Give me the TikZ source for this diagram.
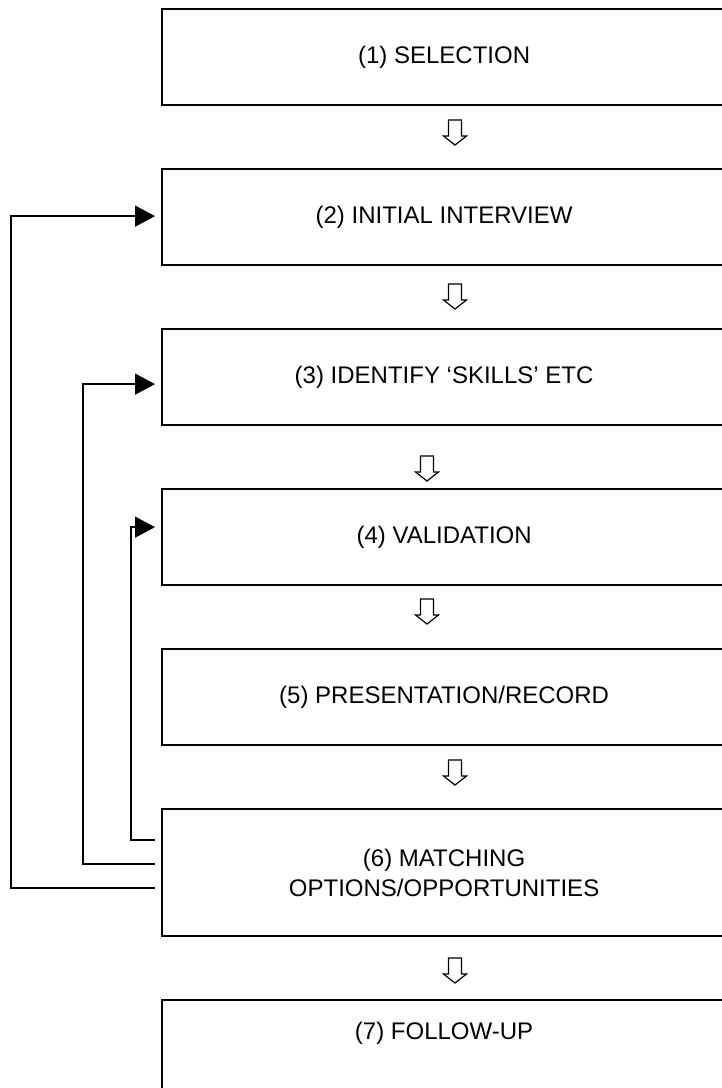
\documentclass[tikz,border=0pt]{standalone}
\usepackage{fontspec}
\setmainfont{Liberation Sans}
\usetikzlibrary{arrows.meta,calc}
\begin{document}
\begin{tikzpicture}[x=1pt,y=-1pt,
  stagebox/.style={draw, line width=2.2pt, minimum width=564pt, minimum height=96pt,
    inner sep=0pt, anchor=north west, align=center,
    font=\fontsize{24}{30}\selectfont},
  feedback/.style={line width=1.4pt},
  loopin/.style={feedback, -{Triangle[length=20pt,width=21pt]}},
  pics/hollowdown/.style={code={
    \draw[line width=1.2pt, line join=miter]
      (-6.5,0) -- (6.5,0) -- (6.5,16) -- (11.5,16) -- (0,25)
      -- (-11.5,16) -- (-6.5,16) -- cycle;}}
]
\useasboundingbox (0,0) rectangle (721,1088);

% process stages
\node[stagebox] (b1) at (161,8)   {(1) SELECTION};
\node[stagebox] (b2) at (161,168) {(2) INITIAL INTERVIEW};
\node[stagebox] (b3) at (161,328) {(3) IDENTIFY ‘SKILLS’ ETC};
\node[stagebox] (b4) at (161,488) {(4) VALIDATION};
\node[stagebox] (b5) at (161,648) {(5) PRESENTATION/RECORD};
\node[stagebox, minimum height=127pt] (b6) at (161,808)
  {(6) MATCHING\\OPTIONS/OPPORTUNITIES};
\node[stagebox, text depth=34pt] (b7) at (161,999) {(7) FOLLOW-UP};

% downward steps between stages
\pic at (455,120) {hollowdown};
\pic at (455,284) {hollowdown};
\pic at (427,456) {hollowdown};
\pic at (427,599) {hollowdown};
\pic at (455,760) {hollowdown};
\pic at (455,958) {hollowdown};

% feedback loops from matching back to earlier stages
\draw[loopin] ($(b6.west)+(-6,15.5)$) -| ($(b2.west)+(-150,-1)$)
  -- ($(b2.west)+(-6,-1)$);
\draw[loopin] ($(b6.west)+(-6,-8.5)$) -| ($(b3.west)+(-78,7)$)
  -- ($(b3.west)+(-6,7)$);
\draw[loopin] ($(b6.west)+(-6,-32.5)$) -| ($(b4.west)+(-30,-10)$)
  -- ($(b4.west)+(-6,-10)$);
\end{tikzpicture}
\end{document}
